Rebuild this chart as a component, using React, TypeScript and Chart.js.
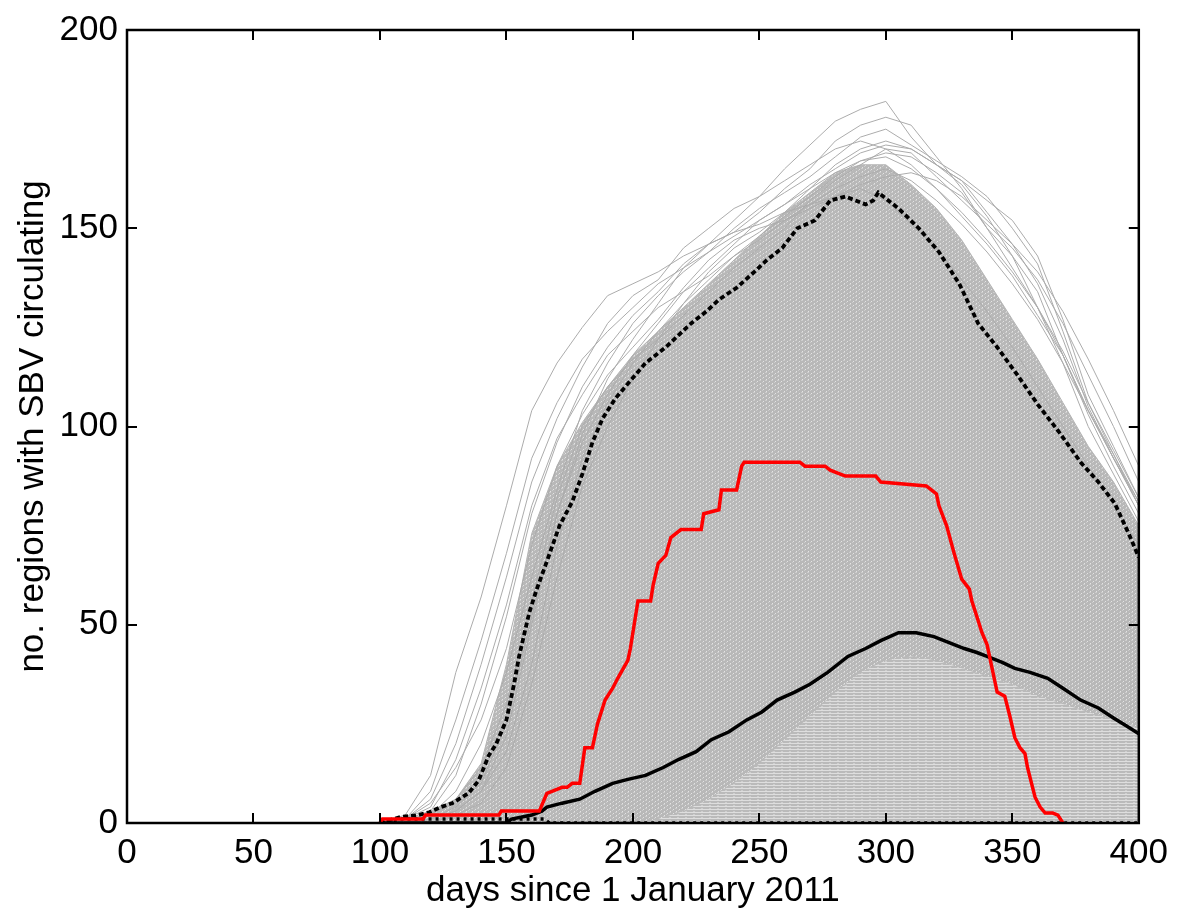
import React, { useEffect, useRef } from 'react';
import { Chart, registerables } from 'chart.js';

Chart.register(...registerables);

// Axis ticks
const xTicks = [0, 50, 100, 150, 200, 250, 300, 350, 400];
const yTicks = [0, 50, 100, 150, 200];

// Simulation runs (grey), sampled every 10 days
const simDays = [100, 110, 120, 130, 140, 150, 160, 170, 180, 190, 200, 210, 220, 230, 240, 250, 260, 270, 280, 290, 300, 310, 320, 330, 340, 350, 360, 370, 380, 390, 400];
// upper edge of the dense mass of simulation runs
const denseCore = [0, 1, 3, 6, 15, 40, 73, 90, 101, 110, 118, 124, 130, 136, 142, 148, 154, 159, 164, 166, 166, 161, 155, 147, 137, 127, 117, 106, 95, 86, 75];
// upper edge of the lower zone where runs have levelled off (horizontal traces)
const plateauZone = [0, 0, 0, 0, 0, 0, 0, 0, 0, 0, 0, 1, 3, 6, 10, 15, 21, 27, 33, 38, 41, 42, 41, 39, 37, 35, 32, 30, 28, 26, 24];
const simRun1 = [0, 2, 12, 38, 57, 80, 104, 116, 125, 133, 136, 139, 143, 146, 149, 151, 154, 156, 158, 160, 157, 151, 145, 137, 129, 120, 110, 100, 90, 80, 70];
const simRun2 = [0, 0, 1, 3, 8, 22, 50, 78, 98, 112, 122, 131, 140, 146, 152, 158, 165, 171, 177, 180, 182, 173, 166, 161, 153, 143, 130, 116, 100, 88, 76];
const simRun3 = [0, 0, 0, 2, 5, 14, 35, 62, 85, 100, 112, 122, 131, 139, 145, 149, 154, 160, 166, 170, 172, 170, 166, 162, 157, 152, 143, 127, 108, 95, 82];
const simRun4 = [0, 1, 6, 20, 40, 62, 86, 102, 115, 126, 133, 137, 145, 150, 155, 158, 162, 166, 170, 172, 170, 166, 160, 153, 146, 138, 128, 118, 104, 92, 81];
const simRun5 = [0, 0, 3, 12, 30, 52, 78, 96, 110, 120, 128, 134, 141, 146, 149, 154, 160, 165, 172, 176, 178, 176, 168, 160, 150, 140, 130, 118, 104, 92, 80];
const simRun6 = [0, 1, 4, 16, 34, 55, 80, 97, 108, 118, 124, 130, 134, 138, 143, 147, 152, 156, 160, 163, 165, 162, 157, 151, 144, 136, 127, 116, 104, 93, 81];
const simRun7 = [0, 0, 2, 8, 20, 38, 62, 84, 104, 116, 126, 133, 139, 144, 150, 155, 159, 163, 168, 173, 175, 171, 167, 163, 158, 150, 141, 124, 106, 93, 80];
const simRun8 = [0, 0, 1, 3, 8, 18, 40, 70, 92, 106, 116, 124, 131, 137, 143, 148, 153, 158, 163, 167, 169, 168, 164, 159, 150, 143, 134, 118, 103, 90, 78];
const simRun9 = [0, 0, 1, 4, 10, 25, 52, 78, 96, 108, 118, 126, 134, 140, 146, 152, 156, 161, 165, 169, 171, 170, 166, 162, 154, 146, 136, 122, 105, 92, 80];
const simRun10 = [0, 1, 8, 26, 46, 68, 92, 106, 117, 124, 130, 136, 140, 144, 148, 152, 156, 160, 164, 167, 168, 165, 160, 154, 147, 139, 130, 119, 106, 94, 82];
const simRun11 = [0, 0, 2, 6, 14, 30, 56, 82, 100, 110, 117, 122, 128, 134, 140, 145, 150, 157, 162, 166, 170, 169, 163, 157, 151, 145, 137, 126, 113, 100, 86];
const simRun12 = [0, 1, 5, 14, 26, 44, 70, 90, 103, 113, 120, 127, 135, 142, 147, 150, 152, 155, 158, 161, 163, 164, 162, 158, 152, 146, 139, 129, 117, 104, 90];

// Upper percentile (dotted black)
const upperDays = [100, 108, 115, 119.5, 124, 128.6, 135, 139, 143, 146, 150, 153, 155, 159, 162, 166, 171, 176, 180, 184, 188, 193, 199.6, 205, 209, 213, 223, 229, 234, 241, 248, 253, 259, 265, 272, 278, 284, 288, 292, 295, 297, 299, 305, 313, 321, 329, 336.5, 344, 352, 360, 368, 377, 384, 390.5, 396, 400];
const upperValues = [0, 1.5, 2, 2.7, 4, 5, 7.5, 10.7, 17, 20, 26, 35, 42, 53, 59, 66, 75, 81, 88, 96, 102, 107, 112, 116, 118, 120, 126, 129, 132, 135, 139, 142, 145, 150, 152, 157, 158, 157, 156, 157, 159, 158, 155, 150, 144, 136, 126, 120, 113, 105.6, 99, 91, 86, 80.6, 73, 67];

// Lower percentile (dotted black, near zero)
const lowerDays = [100, 108, 165, 167, 400];
const lowerValues = [0, 1, 1, 0, 0];

// Median (solid black)
const medianDays = [100, 150, 152, 160, 164, 166, 172, 179, 185, 192, 198, 205, 212, 218, 225, 231, 238, 245, 251, 257, 264, 270, 277, 285, 292, 298, 305, 312, 319, 325, 331, 336, 340, 346, 351, 357, 364, 370, 377, 384, 390, 395, 400];
const medianValues = [0, 0, 1, 2, 3, 4, 5, 6, 8, 10, 11, 12, 14, 16, 18, 21, 23, 26, 28, 31, 33, 35, 38, 42, 44, 46, 48, 48, 47, 45.5, 44, 43, 42, 40.5, 39, 38, 36.5, 34, 31, 29, 26.5, 24.5, 22.5];

// Observed (red)
const observedDays = [100, 101, 117, 118, 147, 148, 163, 165, 166, 168, 172, 174, 176, 179, 181, 184, 186, 189, 192, 194, 198, 199, 201, 202, 207, 208, 210, 213, 215, 219, 227, 228, 234, 235, 241, 243, 244, 266, 268, 276, 278, 282, 284, 296, 298, 316, 318, 320, 321, 324, 327, 330, 333, 334, 336, 338, 340, 341, 343, 344, 347, 349, 351, 353, 355, 356, 358, 359, 361, 363, 366, 368, 370];
const observedValues = [0, 1, 1, 2, 2, 3, 3, 6, 7.5, 8, 9, 9, 10, 10, 19, 19, 25, 31, 34, 36.5, 41, 44, 52, 56, 56, 60, 65.5, 67.5, 72, 74, 74, 78, 79, 84, 84, 90, 91, 91, 90, 90, 89, 88, 87.5, 87.5, 86, 85, 84, 83, 80, 75, 68, 61.5, 59, 56, 52, 48, 45, 42, 36, 33, 32, 27, 21.5, 19, 17.5, 14, 9, 6.5, 4, 2.5, 2.5, 2, 0];

const FONT = '"Liberation Sans", Arial, Helvetica, sans-serif';

const toPoints = (xs: number[], ys: number[]) => xs.map((x, i) => ({ x, y: ys[i] }));

const simRuns = [simRun1, simRun2, simRun3, simRun4, simRun5, simRun6, simRun7, simRun8, simRun9, simRun10, simRun11, simRun12];

function makeSpecklePattern(): CanvasPattern | string {
  const c = document.createElement('canvas');
  c.width = 6;
  c.height = 4;
  const g = c.getContext('2d');
  if (!g) return '#bfbfbf';
  g.fillStyle = '#b8b8b8';
  g.fillRect(0, 0, 6, 4);
  g.fillStyle = '#e4e4e4';
  g.fillRect(1, 1, 1, 1);
  g.fillRect(4, 3, 1, 1);
  g.fillStyle = '#cdcdcd';
  g.fillRect(3, 0, 2, 1);
  g.fillRect(0, 2, 1, 1);
  const p = g.createPattern(c, 'repeat');
  return p || '#bfbfbf';
}

function makeStripePattern(): CanvasPattern | string {
  const c = document.createElement('canvas');
  c.width = 8;
  c.height = 3;
  const g = c.getContext('2d');
  if (!g) return '#c6c6c6';
  g.fillStyle = '#bababa';
  g.fillRect(0, 0, 8, 3);
  g.fillStyle = '#dedede';
  g.fillRect(0, 2, 8, 1);
  g.fillStyle = '#cfcfcf';
  g.fillRect(5, 1, 2, 1);
  const p = g.createPattern(c, 'repeat');
  return p || '#c6c6c6';
}

const framePlugin = {
  id: 'matlabFrame',
  afterDatasetsDraw(chart: any) {
    const { ctx, chartArea: a, scales } = chart;
    const x = scales.x;
    const y = scales.y;
    ctx.save();
    ctx.strokeStyle = '#000';
    ctx.lineWidth = 2;
    ctx.beginPath();
    xTicks.forEach((v) => {
      const px = Math.round(x.getPixelForValue(v));
      ctx.moveTo(px, a.bottom);
      ctx.lineTo(px, a.bottom - 10);
      ctx.moveTo(px, a.top);
      ctx.lineTo(px, a.top + 10);
    });
    yTicks.forEach((v) => {
      const py = Math.round(y.getPixelForValue(v));
      ctx.moveTo(a.left, py);
      ctx.lineTo(a.left + 10, py);
      ctx.moveTo(a.right, py);
      ctx.lineTo(a.right - 10, py);
    });
    ctx.stroke();
    ctx.lineWidth = 2.5;
    ctx.strokeRect(a.left, a.top, a.right - a.left, a.bottom - a.top);
    ctx.restore();
  },
};

export default function App() {
  const canvasRef = useRef<HTMLCanvasElement | null>(null);

  useEffect(() => {
    document.body.style.margin = '0';
    const canvas = canvasRef.current;
    if (!canvas) return;

    const datasets: any[] = [];
    datasets.push({
      label: 'observed',
      data: toPoints(observedDays, observedValues),
      borderColor: '#ff0000',
      borderWidth: 3.5,
      pointRadius: 0,
      fill: false,
      order: 0,
    });
    datasets.push({
      label: 'median',
      data: toPoints(medianDays, medianValues),
      borderColor: '#000000',
      borderWidth: 3.5,
      pointRadius: 0,
      fill: false,
      order: 1,
    });
    datasets.push({
      label: 'upper',
      data: toPoints(upperDays, upperValues),
      borderColor: '#000000',
      borderWidth: 3.8,
      borderDash: [5, 3],
      pointRadius: 0,
      fill: false,
      order: 2,
    });
    datasets.push({
      label: 'lower',
      data: toPoints(lowerDays, lowerValues),
      borderColor: '#000000',
      borderWidth: 3.5,
      borderDash: [3, 4],
      pointRadius: 0,
      fill: false,
      order: 3,
    });
    simRuns.forEach((run, i) => {
      datasets.push({
        label: 'sim' + (i + 1),
        data: toPoints(simDays, run),
        borderColor: '#acacac',
        borderWidth: 1,
        pointRadius: 0,
        fill: false,
        order: 10,
      });
    });
    datasets.push({
      label: 'plateau',
      data: toPoints(simDays, plateauZone),
      borderColor: 'rgba(0,0,0,0)',
      backgroundColor: makeStripePattern(),
      borderWidth: 0,
      pointRadius: 0,
      fill: 'origin',
      order: 15,
    });
    datasets.push({
      label: 'dense',
      data: toPoints(simDays, denseCore),
      borderColor: '#b4b4b4',
      backgroundColor: makeSpecklePattern(),
      borderWidth: 1,
      pointRadius: 0,
      fill: 'origin',
      order: 20,
    });

    const chart = new Chart(canvas, {
      type: 'line',
      data: { datasets },
      options: {
        animation: false,
        responsive: false,
        maintainAspectRatio: false,
        layout: { padding: { top: 22, right: 34, bottom: 0, left: 0 } },
        plugins: { legend: { display: false }, tooltip: { enabled: false } },
        elements: { line: { tension: 0 } },
        scales: {
          x: {
            type: 'linear',
            min: 0,
            max: 400,
            grid: { display: false, drawTicks: false },
            border: { display: false },
            afterFit: (s: any) => { s.height = 87; },
            afterBuildTicks: (s: any) => { s.ticks = xTicks.map((v) => ({ value: v })); },
            ticks: {
              color: '#000',
              padding: 9,
              maxRotation: 0,
              font: { family: FONT, size: 35 },
            },
            title: {
              display: true,
              text: 'days since 1 January 2011',
              color: '#000',
              font: { family: FONT, size: 35, lineHeight: 1 },
              padding: { top: 0, bottom: 1 },
            },
          },
          y: {
            type: 'linear',
            min: 0,
            max: 200,
            grid: { display: false, drawTicks: false },
            border: { display: false },
            afterFit: (s: any) => { s.width = 127; },
            afterBuildTicks: (s: any) => { s.ticks = yTicks.map((v) => ({ value: v })); },
            ticks: {
              color: '#000',
              padding: 9,
              font: { family: FONT, size: 35 },
            },
            title: {
              display: true,
              text: 'no. regions with SBV circulating',
              color: '#000',
              font: { family: FONT, size: 35, lineHeight: 1 },
              padding: { top: 16, bottom: 0 },
            },
          },
        },
      },
      plugins: [framePlugin],
    });

    return () => chart.destroy();
  }, []);

  return (
    <div style={{ width: 1177, height: 910, position: 'relative' }}>
      <canvas ref={canvasRef} width={1177} height={910} style={{ display: 'block' }} />
    </div>
  );
}
